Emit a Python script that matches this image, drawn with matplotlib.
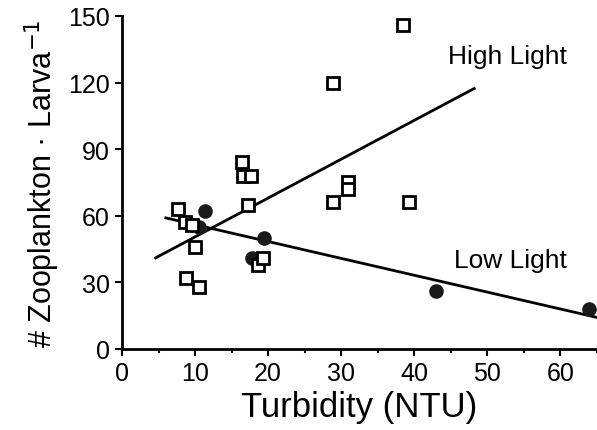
import numpy as np
import matplotlib
matplotlib.use("Agg")
import matplotlib.pyplot as plt

plt.rcParams['font.family'] = ['Liberation Sans', 'DejaVu Sans']

# High light: open squares
high_x = [7.6, 8.6, 9.6, 10.0, 8.8, 10.6, 16.4, 16.6, 17.7, 17.2, 18.6, 19.3, 28.9, 28.9, 30.9, 30.9, 39.3, 38.5]
high_y = [63, 57, 56, 46, 32, 28, 84, 78, 78, 65, 38, 41, 120, 66, 75, 72, 66, 146]

# Low light: filled circles
low_x = [11.3, 10.6, 19.4, 17.8, 42.9, 63.9]
low_y = [62, 55, 50, 41, 26, 18]

# regression lines (slope, intercept, x range)
high_fit = (1.75, 33.0)
high_range = [4.6, 48.2]
low_fit = (-0.76, 63.6)
low_range = [6.0, 65.0]

xticks = [0, 10, 20, 30, 40, 50, 60]
yticks = [0, 30, 60, 90, 120, 150]

fig = plt.figure(figsize=(5.97, 4.31), dpi=100)
ax = fig.add_axes([0.2044, 0.188, 0.7956, 0.7726])

hx = np.array(high_range)
lx = np.array(low_range)
ax.plot(hx, high_fit[0] * hx + high_fit[1], color='black', lw=2.0, zorder=2, clip_on=False)
ax.plot(lx, low_fit[0] * lx + low_fit[1], color='black', lw=2.0, zorder=2, clip_on=False)

ax.plot(low_x, low_y, 'o', ms=9.5, color='#1a1a1a', mec='#1a1a1a', zorder=3, clip_on=False)
ax.plot(high_x, high_y, 's', ms=9, mfc='white', mec='black', mew=2.0, zorder=4, clip_on=False)

ax.text(52.7, 132, 'High Light', fontsize=19, ha='center', va='center')
ax.text(53.2, 40, 'Low Light', fontsize=19, ha='center', va='center')

ax.set_xlim(0, 65)
ax.set_ylim(0, 150)
ax.set_xticks(xticks)
ax.set_xticks(np.arange(5, 66, 10), minor=True)
ax.set_yticks(yticks)

for s in ['top', 'right']:
    ax.spines[s].set_visible(False)
for s in ['left', 'bottom']:
    ax.spines[s].set_linewidth(2.0)

ax.tick_params(axis='both', which='major', length=5, width=1.5, labelsize=18, pad=4)
ax.tick_params(axis='x', which='minor', length=3, width=1.5)

ax.set_xlabel('Turbidity (NTU)', fontsize=25, labelpad=3)
ax.set_ylabel('# Zooplankton · Larva$^{-1}$', fontsize=22, labelpad=4)

fig.savefig('out.png', dpi=100)
